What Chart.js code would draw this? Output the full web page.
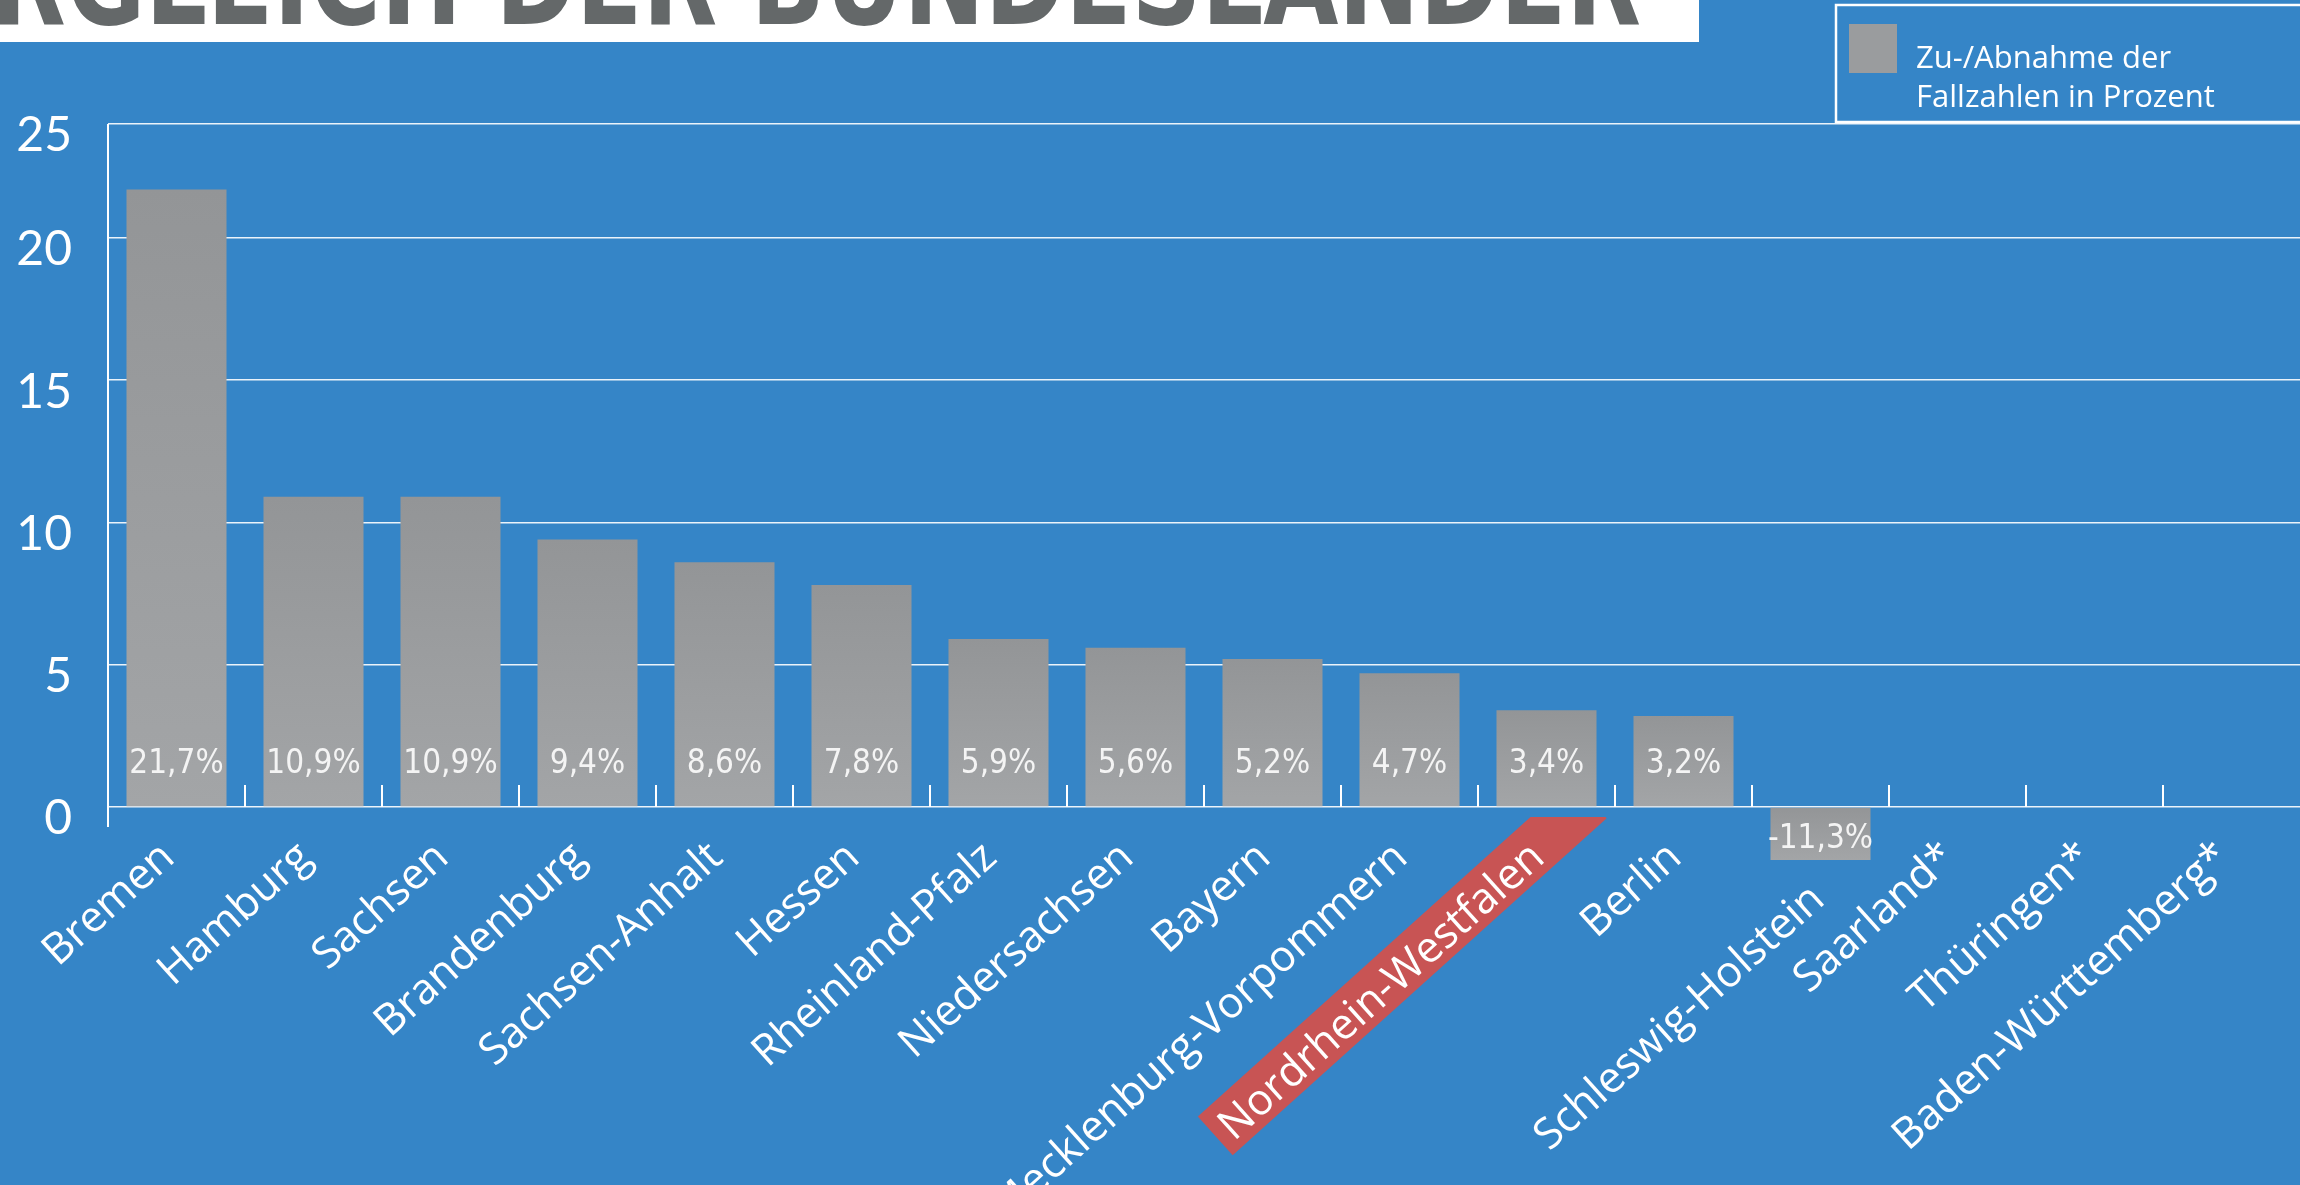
<!DOCTYPE html>
<html>
<head>
<meta charset="utf-8">
<script src="https://cdn.jsdelivr.net/npm/chart.js@4.4.1/dist/chart.umd.min.js"></script>
<style>
  html, body { margin: 0; padding: 0; background: #3585c7; overflow: hidden; }
  #wrap { width: 2300px; height: 1185px; position: relative; }
</style>
</head>
<body>
<div id="wrap"><canvas id="chartLaender"></canvas></div>
<script>
// Daten
var laender = ['Bremen', 'Hamburg', 'Sachsen', 'Brandenburg', 'Sachsen-Anhalt', 'Hessen', 'Rheinland-Pfalz',
  'Niedersachsen', 'Bayern', 'Mecklenburg-Vorpommern', 'Nordrhein-Westfalen', 'Berlin', 'Schleswig-Holstein',
  'Saarland*', 'Thüringen*', 'Baden-Württemberg*'];
var veraenderung = [21.7, 10.9, 10.9, 9.4, 8.6, 7.8, 5.9, 5.6, 5.2, 4.7, 3.4, 3.2, -11.3, null, null, null];
var yTickWerte = [0, 5, 10, 15, 20, 24];
var yTickLabels = ['0', '5', '10', '15', '20', '25'];
var legendZeilen = ['Zu-/Abnahme der', 'Fallzahlen in Prozent'];
var highlightLand = 'Nordrhein-Westfalen';
var titel = 'VERGLEICH DER BUNDESLÄNDER';

var blau = '#3585c7';
var grau = '#9a9c9e';

function formatProzent(v) {
  return v.toFixed(1).replace('.', ',') + '%';
}

// Hintergrund, Titel und roter Balken hinter NRW
var hintergrund = {
  id: 'hintergrund',
  beforeDraw: function(chart) {
    var c = chart.ctx;
    c.save();
    c.fillStyle = blau;
    c.fillRect(0, 0, chart.width, chart.height);

    // Titel (oben abgeschnitten wie im Original)
    c.fillStyle = '#ffffff';
    c.fillRect(0, 0, 1699, 42);
    c.fillStyle = '#646869';
    c.font = 'bold 128px "Liberation Sans Narrow", "DejaVu Sans Condensed", sans-serif';
    c.textAlign = 'right';
    c.textBaseline = 'alphabetic';
    var sichtbar = c.measureText(titel.slice(titel.indexOf('RGLEICH'))).width;
    var sx = 1650 / sichtbar;
    c.save();
    c.translate(1641, 24);
    c.scale(sx, 1);
    c.fillText(titel, 0, 0);
    c.restore();

    var xs = chart.scales.x;
    var ys = chart.scales.y;
    var idx = laender.indexOf(highlightLand);
    var items = xs.getLabelItems ? xs.getLabelItems(chart.chartArea) : null;
    if (items && items[idx]) {
      var it = items[idx];
      var o = it.options;
      c.font = it.font.string;
      c.textAlign = o.textAlign;
      c.textBaseline = o.textBaseline;
      var m = c.measureText(it.label);
      var cy = (it.textOffset || 0) + (m.actualBoundingBoxDescent - m.actualBoundingBoxAscent) / 2;
      var y0 = ys.getPixelForValue(0);
      c.beginPath();
      c.rect(0, y0 + 10, chart.width, chart.height);
      c.clip();
      c.translate(o.translation[0], o.translation[1]);
      c.rotate(o.rotation);
      c.fillStyle = '#c85454';
      c.fillRect(-m.actualBoundingBoxLeft - 14, cy - 26, m.actualBoundingBoxLeft + m.actualBoundingBoxRight + 90, 52);
    }
    c.restore();
  }
};

// y-Achsenlinie und kleine Striche zwischen den Kategorien
var achsenStriche = {
  id: 'achsenStriche',
  beforeDatasetsDraw: function(chart) {
    var xs = chart.scales.x, ys = chart.scales.y, c = chart.ctx;
    var y0 = ys.getPixelForValue(0);
    var ca = chart.chartArea;
    c.save();
    c.strokeStyle = '#ffffff';
    c.lineWidth = 2;
    c.beginPath();
    c.moveTo(ca.left, ca.top);
    c.lineTo(ca.left, y0 + 20);
    for (var i = 1; i < laender.length; i++) {
      var bx = Math.round((xs.getPixelForValue(i - 1) + xs.getPixelForValue(i)) / 2);
      c.moveTo(bx, y0);
      c.lineTo(bx, y0 - 22);
    }
    c.stroke();
    c.restore();
  }
};

// Prozentwerte in den Balken, Kategorie-Label unter negativem Balken nach unten versetzt
var werteLabels = {
  id: 'werteLabels',
  afterDatasetsDraw: function(chart) {
    var meta = chart.getDatasetMeta(0), ys = chart.scales.y, xs = chart.scales.x, c = chart.ctx;
    var y0 = ys.getPixelForValue(0);
    var items = xs.getLabelItems ? xs.getLabelItems(chart.chartArea) : [];
    c.save();
    meta.data.forEach(function(bar, i) {
      var v = veraenderung[i];
      if (v === null) return;
      c.fillStyle = '#f4f4f4';
      c.font = '33px "Liberation Sans Narrow", "DejaVu Sans Condensed", sans-serif';
      c.textAlign = 'center';
      c.textBaseline = 'middle';
      var y = v >= 0 ? y0 - 43 : y0 + 32;
      c.fillText(formatProzent(v), bar.x, y);

      if (v < 0 && items[i]) {
        var it = items[i], o = it.options;
        c.save();
        c.translate(o.translation[0] + 6, o.translation[1] + 42);
        c.rotate(o.rotation);
        c.font = it.font.string;
        c.fillStyle = '#ffffff';
        c.textAlign = o.textAlign;
        c.textBaseline = o.textBaseline;
        c.fillText(it.label, 0, it.textOffset || 0);
        c.restore();
      }
    });
    c.restore();
  }
};

// Legende oben rechts
var legendeBox = {
  id: 'legendeBox',
  afterDraw: function(chart) {
    var c = chart.ctx;
    var ds = chart.data.datasets[0];
    c.save();
    c.strokeStyle = '#ffffff';
    c.lineWidth = 2.5;
    c.strokeRect(1836, 5, 600, 117);
    c.fillStyle = ds.legendColor;
    c.fillRect(1849, 24, 48, 49);
    c.fillStyle = '#ffffff';
    c.font = '31px "Open Sans", sans-serif';
    c.textAlign = 'left';
    c.textBaseline = 'middle';
    c.fillText(legendZeilen[0], 1916, 59);
    c.fillText(legendZeilen[1], 1916, 98);
    c.restore();
  }
};

var ctx = document.getElementById('chartLaender').getContext('2d');
var myChart = new Chart(ctx, {
  type: 'bar',
  data: {
    labels: laender,
    datasets: [{
      label: legendZeilen.join(' '),
      data: veraenderung,
      legendColor: grau,
      backgroundColor: function(context) {
        var chart = context.chart;
        var ys = chart.scales.y;
        var v = context.raw;
        if (!ys || v === null || v === undefined) return grau;
        var top = ys.getPixelForValue(Math.max(v, 0));
        var bot = v >= 0 ? ys.getPixelForValue(0) : ys.getPixelForValue(0) + 53;
        if (!isFinite(top) || !isFinite(bot) || top === bot) return grau;
        var g = chart.ctx.createLinearGradient(0, top, 0, bot);
        g.addColorStop(0, '#939597');
        g.addColorStop(1, '#a3a5a7');
        return g;
      },
      borderWidth: 0,
      barPercentage: 0.73,
      categoryPercentage: 1,
      // negativer Balken ragt nur ein Stück unter die Nulllinie
      clip: { left: 0, top: 0, right: 0, bottom: 53 }
    }]
  },
  options: {
    responsive: true,
    maintainAspectRatio: false,
    animation: false,
    layout: { padding: { top: 124, right: 0, bottom: 0, left: 0 } },
    plugins: {
      legend: { display: false },
      tooltip: { enabled: false }
    },
    scales: {
      x: {
        grid: { display: false, drawTicks: false },
        border: { display: false },
        ticks: {
          color: function(context) {
            return veraenderung[context.index] < 0 ? 'rgba(0,0,0,0)' : '#ffffff';
          },
          font: { family: '"Open Sans", sans-serif', size: 43 },
          minRotation: 42,
          maxRotation: 42,
          autoSkip: false,
          padding: 25,
          labelOffset: -8
        },
        afterFit: function(s) {
          s.height = 378;
          s.paddingLeft = 0;
          s.paddingRight = 0;
        }
      },
      y: {
        min: 0,
        max: 24,
        grid: { color: 'rgba(255,255,255,0.9)', lineWidth: 1.5, drawTicks: false },
        border: { display: false },
        afterBuildTicks: function(s) {
          s.ticks = yTickWerte.map(function(v) { return { value: v }; });
        },
        ticks: {
          color: '#ffffff',
          font: { family: 'Lato, sans-serif', size: 48 },
          padding: 36,
          labelOffset: 12,
          callback: function(value) {
            return yTickLabels[yTickWerte.indexOf(value)];
          }
        },
        afterFit: function(s) { s.width = 108; }
      }
    }
  },
  plugins: [hintergrund, achsenStriche, werteLabels, legendeBox]
});
</script>
</body>
</html>
